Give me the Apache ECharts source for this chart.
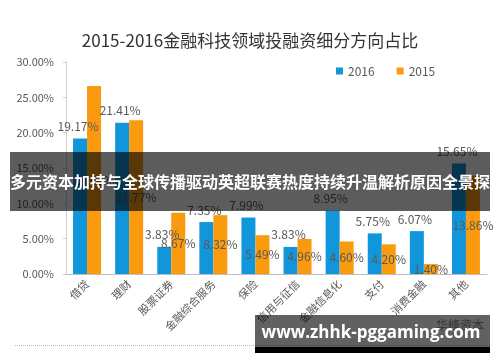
<!DOCTYPE html>
<html><head><meta charset="utf-8">
<script src="https://cdn.jsdelivr.net/npm/echarts@6/dist/echarts.min.js"></script>
<style>html,body{margin:0;padding:0;background:#fff}#c{width:500px;height:362px}</style>
</head><body><div id="c"></div>
<script>
var categories = ['借贷','理财','股票证券','金融综合服务','保险','信用与征信','金融信息化','支付','消费金融','其他'];
var values2016 = [19.17,21.41,3.83,7.35,7.99,3.83,8.95,5.75,6.07,15.65];
var values2015 = [26.60,21.77,8.67,8.32,5.49,4.96,4.60,4.20,1.40,13.86];
var yTicks = [0,5,10,15,20,25,30];
var titleText = '2015-2016金融科技领域投融资细分方向占比';
var bannerText = '多元资本加持与全球传播驱动英超联赛热度持续升温解析原因全景探';
var siteText = 'www.zhhk-pggaming.com';

var FONT = '"Noto Sans CJK SC", "Noto Sans", sans-serif';
var chart = echarts.init(document.getElementById('c'));
var pct = function(v){ return (typeof v === 'number' ? v : v.value).toFixed(2) + '%'; };
chart.setOption({
  animation: false,
  textStyle: {fontFamily: FONT},
  title: {text: titleText, left: 'center', top: 32, padding: 0,
    textStyle: {fontSize: 17, fontWeight: 'normal', color: '#333', fontFamily: FONT}},
  legend: {left: 331, top: 60, itemWidth: 7, itemHeight: 7, itemGap: 22, icon: 'rect',
    textStyle: {fontSize: 12, color: '#595959', fontFamily: FONT}, data: ['2016','2015']},
  grid: {left: 66, right: 13, top: 62, bottom: 88},
  xAxis: {type: 'category', data: categories,
    axisLine: {lineStyle: {color: '#bfbfbf'}}, axisTick: {show: false},
    axisLabel: {rotate: 45, interval: 0, fontSize: 11, color: '#595959', margin: 8, fontFamily: FONT}},
  yAxis: {type: 'value', min: yTicks[0], max: yTicks[yTicks.length-1], interval: yTicks[1]-yTicks[0],
    axisLine: {show: true, lineStyle: {color: '#d0d0d0'}},
    axisTick: {show: true, length: 3, lineStyle: {color: '#d0d0d0'}},
    splitLine: {show: false},
    axisLabel: {formatter: function(v){ return v.toFixed(2) + '%'; }, fontSize: 11, color: '#595959', margin: 12, fontFamily: FONT}},
  series: [
    {name: '2016', type: 'bar', data: values2016, barWidth: 14, barGap: '0%',
      itemStyle: {color: '#1296db'},
      label: {show: true, position: 'top', distance: 6, offset: [-2, 0], formatter: function(p){ return pct(p.value); },
        fontSize: 12, color: '#595959', fontFamily: FONT}},
    {name: '2015', type: 'bar', data: values2015, barWidth: 14, barGap: '0%',
      itemStyle: {color: '#fa9b0f'},
      label: {show: true, position: 'inside', formatter: function(p){ return pct(p.value); },
        fontSize: 12, color: '#595959', fontFamily: FONT}}
  ],
  graphic: [
    {type: 'line', shape: {x1: 15, y1: 345.5, x2: 490, y2: 345.5}, style: {stroke: '#bbb', lineWidth: 1, lineDash: [1, 1]}, z: 50},
    {type: 'rect', shape: {x: 10, y: 152, width: 480, height: 59}, style: {fill: 'rgba(0,0,0,0.64)'}, z: 100},
    {type: 'text', x: 250, y: 182, style: {text: bannerText, fill: '#fff', font: 'bold 16px ' + FONT, align: 'center', verticalAlign: 'middle'}, z: 101},
    {type: 'text', x: 436, y: 325, style: {text: '华峰资本', fill: '#888', font: '12px ' + FONT, align: 'left', verticalAlign: 'middle'}, z: 60},
    {type: 'rect', shape: {x: 255, y: 315, width: 235, height: 32}, style: {fill: 'rgba(0,0,0,0.62)'}, z: 100},
    {type: 'rect', shape: {x: 255, y: 347, width: 235, height: 6}, style: {fill: '#000'}, z: 100},
    {type: 'text', x: 371, y: 333, style: {text: siteText, fill: '#fff', font: 'bold 17px "Open Sans", "DejaVu Sans", sans-serif', align: 'center', verticalAlign: 'middle'}, z: 101}
  ]
});
</script></body></html>
